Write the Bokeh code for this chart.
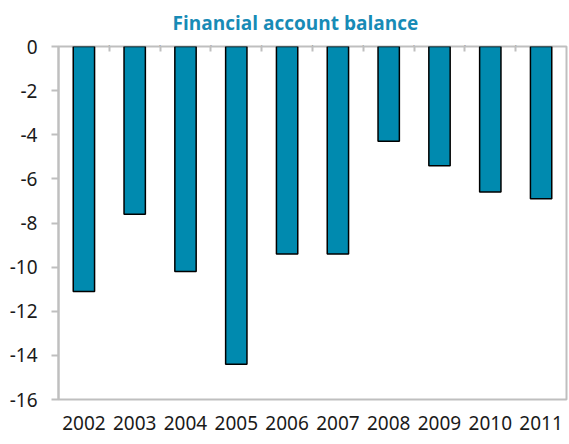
from bokeh.plotting import figure
from bokeh.models import Range1d, FactorRange, FixedTicker, CategoricalAxis, Title
from bokeh.embed import file_html
from bokeh.resources import INLINE

years = ["2002", "2003", "2004", "2005", "2006", "2007", "2008", "2009", "2010", "2011"]
balance = [-11.1, -7.6, -10.2, -14.4, -9.4, -9.4, -4.3, -5.4, -6.6, -6.9]
y_ticks = [0, -2, -4, -6, -8, -10, -12, -14, -16]

GRAY = "#bfbfbf"
TEXT = "#1a1a1a"
FONT = "Noto Sans"

p = figure(x_range=years, y_range=Range1d(-16, 0), width=569, height=444,
           output_backend="svg", toolbar_location=None,
           min_border_left=58, min_border_right=3, min_border_top=45, min_border_bottom=45)

# boundaries between the year categories (for the top tick marks)
bounds = ["b%d" % i for i in range(1, len(years))]
p.extra_x_ranges = {"bounds": FactorRange(factors=bounds, range_padding=0.5,
                                          range_padding_units="absolute")}

p.vbar(x=years, top=0, bottom=balance, width=0.42,
       fill_color="#008aaf", line_color="#000000", line_width=1.5)

p.outline_line_color = GRAY
p.outline_line_width = 2
p.xgrid.grid_line_color = None
p.ygrid.grid_line_color = None
p.background_fill_color = "white"
p.border_fill_color = "white"

# y axis
p.yaxis.ticker = FixedTicker(ticks=y_ticks)
p.yaxis.major_label_overrides = {t: str(t) for t in y_ticks}
p.yaxis.axis_line_color = GRAY
p.yaxis.axis_line_width = 2
p.yaxis.major_tick_line_color = GRAY
p.yaxis.major_tick_line_width = 2
p.yaxis.major_tick_out = 7
p.yaxis.major_tick_in = 0
p.yaxis.minor_tick_line_color = None
p.yaxis.major_label_standoff = 14
p.yaxis.major_label_text_font = FONT
p.yaxis.major_label_text_font_size = "19px"
p.yaxis.major_label_text_color = TEXT

# x axis (labels only)
p.xaxis.axis_line_color = None
p.xaxis.major_tick_line_color = None
p.xaxis.major_tick_out = 0
p.xaxis.major_tick_in = 0
p.xaxis.minor_tick_line_color = None
p.xaxis.major_label_standoff = 16
p.xaxis.major_label_text_font = FONT
p.xaxis.major_label_text_font_size = "19px"
p.xaxis.major_label_text_color = TEXT

# top axis with ticks at category boundaries (no labels)
top_axis = CategoricalAxis(x_range_name="bounds",
                           axis_line_color=None, major_tick_line_color=GRAY, major_tick_line_width=2,
                           major_tick_in=5, major_tick_out=0, minor_tick_line_color=None,
                           major_label_overrides={b: "" for b in bounds},
                           major_label_text_font_size="1px", major_label_standoff=0)
p.add_layout(top_axis, "above")

p.title = Title(text="Financial account balance", align="left", offset=114,
                text_font="Open Sans", text_font_style="bold", text_font_size="19px",
                text_color="#178bb6", standoff=14)

open("out.html", "w").write(file_html(p, INLINE))
